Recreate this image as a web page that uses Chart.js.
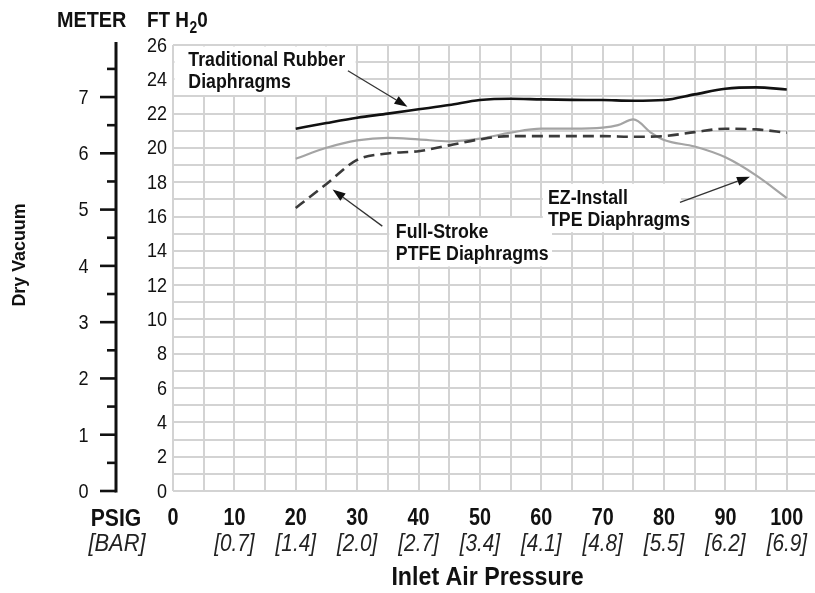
<!DOCTYPE html>
<html>
<head>
<meta charset="utf-8">
<script src="https://cdn.jsdelivr.net/npm/chart.js@4.4.1/dist/chart.umd.min.js"></script>
<style>
  html, body { margin: 0; padding: 0; background: #fff; }
  #wrap { width: 815px; height: 593px; position: relative; }
</style>
</head>
<body>
<div id="wrap"><canvas id="vacuumChart"></canvas></div>
<script>
// Inlet air pressure (PSIG) sample points
const psi = [20, 25, 30, 35, 40, 45, 50, 55, 60, 65, 70, 75, 80, 85, 90, 95, 100];
const tpePsi = [20, 25, 30, 35, 40, 45, 50, 55, 60, 65, 70, 72.5, 75, 78, 80, 85, 90, 95, 100];

// Dry vacuum in FT H2O
const rubberFt = [21.12, 21.45, 21.76, 22.0, 22.25, 22.5, 22.79, 22.87, 22.83, 22.8, 22.79, 22.75, 22.79, 23.12, 23.45, 23.53, 23.41];
const ptfeFt = [16.5, 17.9, 19.3, 19.68, 19.81, 20.15, 20.5, 20.69, 20.69, 20.69, 20.69, 20.65, 20.69, 20.92, 21.12, 21.08, 20.89];
const tpeFt = [19.37, 20.01, 20.44, 20.59, 20.5, 20.38, 20.54, 20.89, 21.12, 21.12, 21.18, 21.33, 21.66, 20.86, 20.46, 20.08, 19.45, 18.4, 17.08];

// Axis labels
const barLabels = ['', '[0.7]', '[1.4]', '[2.0]', '[2.7]', '[3.4]', '[4.1]', '[4.8]', '[5.5]', '[6.2]', '[6.9]'];
const meterTicks = [0, 0.5, 1, 1.5, 2, 2.5, 3, 3.5, 4, 4.5, 5, 5.5, 6, 6.5, 7, 7.5];
const M_TO_FT = 3.28084;

const FT_MAX = 26;
const PSI_MAX = 104.6;

const TEXT = '#111';
const GRID = '#d3d3d3';
const SANS = "'Liberation Sans', Arial, sans-serif";

// callouts: white patch over the grid, label lines, arrow (all in data units)
const callouts = [
    { box: [0, 30, 23, 26], at: [2.5, 24.77], lines: ['Traditional Rubber', 'Diaphragms'], arrow: [28.5, 24.5, 38.2, 22.4] },
    { box: [35, 62, 13, 16], at: [36.3, 14.76], lines: ['Full-Stroke', 'PTFE Diaphragms'], arrow: [34.1, 15.44, 26.0, 17.58] },
    { box: [60, 83, 15, 18], at: [61.1, 16.76], lines: ['EZ-Install', 'TPE Diaphragms'], arrow: [82.6, 16.82, 94.0, 18.32] }
];

function toPoints(xs, ys) {
    return xs.map((x, i) => ({ x: x, y: ys[i] }));
}

// condensed text: the face is squeezed horizontally around its anchor
function drawText(ctx, str, x, y, o) {
    ctx.save();
    ctx.translate(x, y);
    ctx.scale(o.sx || 1, 1);
    ctx.font = o.font;
    ctx.fillStyle = o.color || TEXT;
    ctx.textAlign = o.align || 'left';
    ctx.textBaseline = o.baseline || 'alphabetic';
    ctx.fillText(str, 0, 0);
    const w = ctx.measureText(str).width * (o.sx || 1);
    ctx.restore();
    return w;
}

function drawArrow(ctx, x1, y1, x2, y2) {
    const ang = Math.atan2(y2 - y1, x2 - x1);
    const len = 13, half = 4.5;
    const bx = x2 - len * Math.cos(ang), by = y2 - len * Math.sin(ang);
    ctx.beginPath();
    ctx.moveTo(x1, y1);
    ctx.lineTo(bx, by);
    ctx.stroke();
    ctx.beginPath();
    ctx.moveTo(x2, y2);
    ctx.lineTo(bx + half * Math.sin(ang), by - half * Math.cos(ang));
    ctx.lineTo(bx - half * Math.sin(ang), by + half * Math.cos(ang));
    ctx.closePath();
    ctx.fill();
}

const calloutPlugin = {
    id: 'callouts',
    beforeDatasetsDraw(chart) {
        const ctx = chart.ctx, xs = chart.scales.x, ys = chart.scales.y;
        ctx.save();
        callouts.forEach(c => {
            const l = xs.getPixelForValue(c.box[0]) + 1.5;
            const r = xs.getPixelForValue(c.box[1]) - 1.5;
            const t = ys.getPixelForValue(c.box[3]) + 1.5;
            const b = ys.getPixelForValue(c.box[2]) - 1.5;
            ctx.fillStyle = '#fff';
            ctx.fillRect(l, t, r - l, b - t);

            const tx = xs.getPixelForValue(c.at[0]);
            const ty = ys.getPixelForValue(c.at[1]);
            c.lines.forEach((line, i) => drawText(ctx, line, tx, ty + i * 22.4,
                { font: 'bold 19.5px ' + SANS, sx: 0.91 }));

            ctx.strokeStyle = '#333';
            ctx.fillStyle = '#111';
            ctx.lineWidth = 1.3;
            drawArrow(ctx,
                xs.getPixelForValue(c.arrow[0]), ys.getPixelForValue(c.arrow[1]),
                xs.getPixelForValue(c.arrow[2]), ys.getPixelForValue(c.arrow[3]));
        });
        ctx.restore();
    }
};

const framePlugin = {
    id: 'frame',
    afterDraw(chart) {
        const ctx = chart.ctx, xs = chart.scales.x, ys = chart.scales.y;
        ctx.save();
        ctx.strokeStyle = TEXT;

        // FT H2O tick labels (every other grid line)
        ys.ticks.forEach(t => {
            if (t.label) drawText(ctx, t.label, 167, ys.getPixelForValue(t.value) + 1,
                { font: '20px ' + SANS, sx: 0.9, align: 'right', baseline: 'middle' });
        });

        // PSIG and BAR tick rows
        xs.ticks.forEach(t => {
            if (!t.label) return;
            const px = xs.getPixelForValue(t.value);
            drawText(ctx, t.label, px, 525, { font: 'bold 23px ' + SANS, sx: 0.86, align: 'center' });
            const bar = barLabels[Math.round(t.value / 10)];
            if (bar) drawText(ctx, bar, px, 550.5, { font: 'italic 23px ' + SANS, sx: 0.9, align: 'center', color: '#222' });
        });
        drawText(ctx, 'PSIG', 116, 526, { font: 'bold 23px ' + SANS, sx: 0.92, align: 'center' });
        drawText(ctx, '[BAR]', 117, 551, { font: 'italic 23px ' + SANS, sx: 0.95, align: 'center', color: '#222' });

        // metric axis, sharing the FT scale
        const axisX = 116;
        ctx.lineWidth = 3;
        ctx.beginPath();
        ctx.moveTo(axisX, ys.getPixelForValue(FT_MAX) - 3);
        ctx.lineTo(axisX, ys.getPixelForValue(0) + 1.5);
        ctx.stroke();
        meterTicks.forEach(m => {
            const py = ys.getPixelForValue(m * M_TO_FT);
            const major = Number.isInteger(m);
            ctx.lineWidth = 2.6;
            ctx.beginPath();
            ctx.moveTo(major ? 100 : 107, py);
            ctx.lineTo(axisX, py);
            ctx.stroke();
            if (major) drawText(ctx, String(m), 88.5, py + 1,
                { font: '21px ' + SANS, sx: 0.86, align: 'right', baseline: 'middle' });
        });

        // unit headers
        drawText(ctx, 'METER', 57, 27.3, { font: 'bold 22px ' + SANS, sx: 0.9 });
        let hx = 147;
        hx += drawText(ctx, 'FT H', hx, 27.3, { font: 'bold 22px ' + SANS, sx: 0.86 });
        hx += drawText(ctx, '2', hx + 0.5, 33.3, { font: 'bold 16px ' + SANS, sx: 0.86 }) + 0.5;
        drawText(ctx, '0', hx, 27.3, { font: 'bold 22px ' + SANS, sx: 0.86 });

        // axis titles
        drawText(ctx, 'Inlet Air Pressure', 487.5, 585, { font: 'bold 25.5px ' + SANS, sx: 0.91, align: 'center' });

        ctx.translate(20, 255);
        ctx.rotate(-Math.PI / 2);
        drawText(ctx, 'Dry Vacuum', 0, 0, { font: 'bold 18px ' + SANS, sx: 0.99, align: 'center', baseline: 'middle' });
        ctx.restore();
    }
};

const ctx = document.getElementById('vacuumChart');
new Chart(ctx, {
    type: 'line',
    data: {
        datasets: [
            {
                label: 'Traditional Rubber Diaphragms',
                data: toPoints(psi, rubberFt),
                borderColor: '#111',
                borderWidth: 2.6
            },
            {
                label: 'Full-Stroke PTFE Diaphragms',
                data: toPoints(psi, ptfeFt),
                borderColor: '#3a3a3a',
                borderWidth: 2.6,
                borderDash: [11, 6]
            },
            {
                label: 'EZ-Install TPE Diaphragms',
                data: toPoints(tpePsi, tpeFt),
                borderColor: '#a4a4a4',
                borderWidth: 2.2
            }
        ]
    },
    options: {
        responsive: true,
        maintainAspectRatio: false,
        animation: false,
        events: [],
        layout: { padding: { top: 45, right: 0, bottom: 36, left: 0 } },
        elements: {
            point: { radius: 0 },
            line: { cubicInterpolationMode: 'monotone', fill: false }
        },
        plugins: {
            legend: { display: false },
            tooltip: { enabled: false }
        },
        scales: {
            x: {
                type: 'linear',
                position: 'bottom',
                min: 0,
                max: PSI_MAX,
                afterFit: scale => { scale.height = 66; },
                grid: { color: GRID, lineWidth: 2, drawTicks: false },
                border: { display: false },
                ticks: {
                    display: false,
                    stepSize: 5,
                    includeBounds: false,
                    autoSkip: false,
                    callback: v => (v % 10 === 0 ? String(v) : '')
                }
            },
            y: {
                type: 'linear',
                position: 'left',
                min: 0,
                max: FT_MAX,
                afterFit: scale => { scale.width = 173; },
                grid: { color: GRID, lineWidth: 2, drawTicks: false },
                border: { display: false },
                ticks: {
                    display: false,
                    stepSize: 1,
                    autoSkip: false,
                    callback: v => (v % 2 === 0 ? String(v) : '')
                }
            }
        }
    },
    plugins: [calloutPlugin, framePlugin]
});
</script>
</body>
</html>
